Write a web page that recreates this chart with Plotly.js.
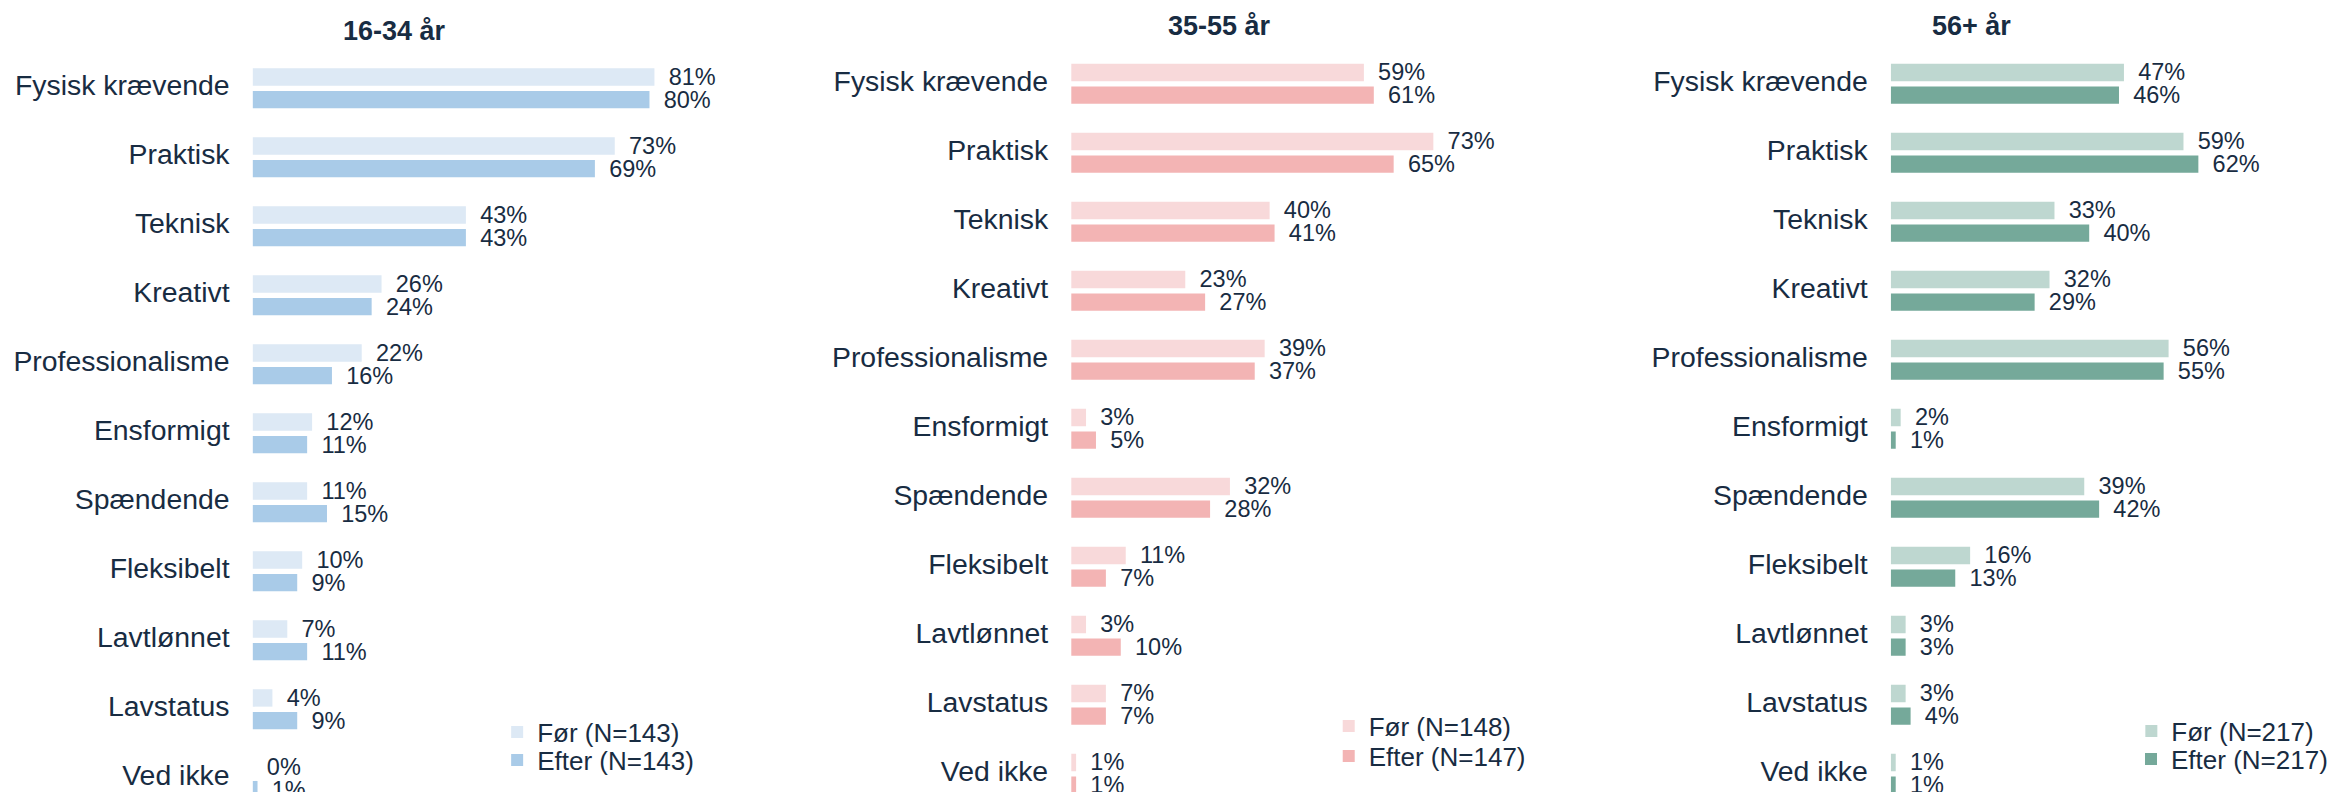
<!DOCTYPE html>
<html>
<head>
<meta charset="utf-8">
<script src="https://cdn.plot.ly/plotly-3.0.1.min.js"></script>
<style>html,body{margin:0;padding:0;background:#fff;}#chart{width:2333px;height:792px;}</style>
</head>
<body>
<div id="chart"></div>
<script>
const categories = ["Fysisk krævende","Praktisk","Teknisk","Kreativt","Professionalisme","Ensformigt","Spændende","Fleksibelt","Lavtlønnet","Lavstatus","Ved ikke"];
const panelTitles = ["16-34 år","35-55 år","56+ år"];
const forLabels = ["Før (N=143)","Før (N=148)","Før (N=217)"];
const efterLabels = ["Efter (N=143)","Efter (N=147)","Efter (N=217)"];
const for1634 = [81,73,43,26,22,12,11,10,7,4,0];
const efter1634 = [80,69,43,24,16,11,15,9,11,9,1];
const for3555 = [59,73,40,23,39,3,32,11,3,7,1];
const efter3555 = [61,65,41,27,37,5,28,7,10,7,1];
const for56 = [47,59,33,32,56,2,39,16,3,3,1];
const efter56 = [46,62,40,29,55,1,42,13,3,4,1];

const W = 2333, H = 792;
const FONT = "Liberation Sans, Arial, sans-serif";
const TXT = "#182c42";
const lightColors = ["#dde9f5","#f8d9da","#bed7d0"];
const darkColors = ["#a9cbe8","#f3b4b4","#75a99a"];
const forData = [for1634, for3555, for56];
const efterData = [efter1634, efter3555, efter56];

// layout geometry (pixels)
const barStart = [253, 1073, 1894];
const pxPerPct = 4.97;
const xMax = 85;
const firstCenter = [88.3, 83.8, 83.8];
const pitch = 69;
const titleX = [395, 1222, 1975];
const titleY = [31, 26, 26];
const legendLeft = [498, 1331, 2135];
const legendRowY = [[732, 760], [726, 756], [731, 759]];

const traces = [];
const layout = {
  width: W, height: H,
  margin: {l:0, r:0, t:0, b:0},
  paper_bgcolor: "#fff", plot_bgcolor: "#fff",
  barmode: "group", bargap: 0.342, bargroupgap: 0.2335,
  font: {family: FONT, color: TXT, size: 23.5},
  annotations: [],
  showlegend: true
};

function legendName(i) { return i === 0 ? "legend" : "legend" + (i + 1); }

for (let p = 0; p < 3; p++) {
  const sfx = p === 0 ? "" : String(p+1);
  const xa = "x" + sfx, ya = "y" + sfx;
  const legA = legendName(2*p), legB = legendName(2*p + 1);
  const common = {
    type: "bar", orientation: "h", y: categories,
    xaxis: xa, yaxis: ya,
    texttemplate: "\u00a0\u2009%{x}%", textposition: "outside",
    cliponaxis: false, constraintext: "none",
    textfont: {family: FONT, size: 23.5, color: TXT},
    hoverinfo: "skip"
  };
  traces.push(Object.assign({}, common, {x: forData[p], name: forLabels[p], legend: legA, marker: {color: lightColors[p]}}));
  traces.push(Object.assign({}, common, {x: efterData[p], name: efterLabels[p], legend: legB, marker: {color: darkColors[p]}}));

  const x0 = barStart[p], x1 = barStart[p] + pxPerPct * xMax;
  layout["xaxis" + sfx] = {
    domain: [x0 / W, x1 / W], range: [0, xMax], anchor: ya,
    showticklabels: false, showgrid: false, zeroline: false, showline: false, ticks: "", fixedrange: true
  };
  const top = -firstCenter[p] / pitch;
  const bottom = (H - firstCenter[p]) / pitch;
  layout["yaxis" + sfx] = {
    domain: [0, 1], range: [bottom, top], anchor: xa,
    type: "category", categoryorder: "array", categoryarray: categories,
    showgrid: false, zeroline: false, showline: false, ticks: "",
    ticklabelstandoff: 22, ticklabelshift: 3,
    tickfont: {family: FONT, size: 28.4, color: TXT}, fixedrange: true
  };
  [legA, legB].forEach(function (lg, k) {
    layout[lg] = {
      x: legendLeft[p] / W, y: 1 - legendRowY[p][k] / H, xanchor: "left", yanchor: "middle",
      bgcolor: "rgba(0,0,0,0)", traceorder: "normal",
      font: {family: FONT, size: 26, color: TXT},
      itemwidth: 30
    };
  });
  layout.annotations.push({
    xref: "paper", yref: "paper", x: titleX[p] / W, y: 1 - titleY[p] / H,
    xanchor: "center", yanchor: "middle", showarrow: false,
    text: "<b>" + panelTitles[p] + "</b>",
    font: {family: FONT, size: 27, color: TXT}
  });
}

Plotly.newPlot("chart", traces, layout, {displayModeBar: false, staticPlot: true});
</script>
</body>
</html>
